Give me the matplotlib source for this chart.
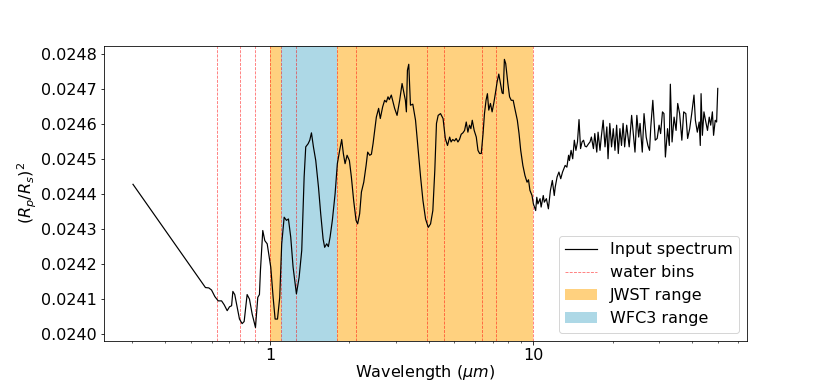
import matplotlib
matplotlib.use("Agg")
import matplotlib.pyplot as plt
from matplotlib.ticker import FuncFormatter, MultipleLocator, FormatStrFormatter

# spectrum (wavelength in micron, transit depth)
wavelength = [
    0.302, 0.569, 0.586, 0.600, 0.618, 0.636, 0.655, 0.670, 0.688, 0.702,
    0.715, 0.723, 0.735, 0.751, 0.766, 0.784, 0.798, 0.819, 0.836, 0.856,
    0.881, 0.899, 0.912, 0.920, 0.939, 0.956, 0.976, 0.996, 1.007, 1.028,
    1.046, 1.068, 1.089, 1.108, 1.132, 1.155, 1.175, 1.199, 1.224, 1.260,
    1.290, 1.320, 1.348, 1.367, 1.396, 1.416, 1.437, 1.462, 1.492, 1.528,
    1.558, 1.591, 1.613, 1.642, 1.666, 1.691, 1.725, 1.767, 1.802, 1.839,
    1.872, 1.899, 1.928, 1.962, 2.002, 2.037, 2.078, 2.122, 2.152, 2.190,
    2.224, 2.270, 2.317, 2.349, 2.391, 2.427, 2.462, 2.497, 2.534, 2.585,
    2.623, 2.677, 2.724, 2.765, 2.806, 2.838, 2.888, 2.932, 2.973, 3.037,
    3.107, 3.173, 3.218, 3.266, 3.295, 3.325, 3.364, 3.414, 3.485, 3.569,
    3.654, 3.730, 3.808, 3.896, 3.989, 4.070, 4.152, 4.224, 4.286, 4.350,
    4.44, 4.54, 4.63, 4.72, 4.81, 4.87, 4.94, 5.02, 5.09, 5.17,
    5.24, 5.32, 5.40, 5.48, 5.56, 5.64, 5.72, 5.79, 5.86, 5.96,
    6.07, 6.16, 6.25, 6.34, 6.44, 6.52, 6.61, 6.69, 6.77, 6.87,
    6.97, 7.07, 7.17, 7.28, 7.39, 7.50, 7.61, 7.68, 7.76, 7.85,
    8.00, 8.12, 8.24, 8.38, 8.50, 8.69, 8.82, 8.95, 9.12, 9.29,
    9.46, 9.58, 9.70, 9.88, 10.0, 10.2, 10.3, 10.4, 10.6, 10.7,
    10.9, 11.0, 11.2, 11.4, 11.6, 11.8, 12.0, 12.1, 12.3, 12.5,
    12.7, 12.9, 13.2, 13.4, 13.6, 13.7, 13.9, 14.1, 14.3, 14.5,
    14.7, 14.9, 15.1, 15.3, 15.5, 15.7, 15.9, 16.2, 16.4, 16.6,
    16.9, 17.1, 17.4, 17.6, 17.9, 18.1, 18.4, 18.7, 19.0, 19.2,
    19.5, 19.8, 20.1, 20.4, 20.7, 21.0, 21.3, 21.6, 21.9, 22.2,
    22.6, 23.1, 23.6, 24.0, 24.3, 24.7, 25.1, 25.4, 25.9, 26.3,
    26.8, 27.2, 27.6, 27.9, 28.4, 29.0, 29.5, 30.0, 30.4, 30.9,
    31.3, 31.7, 32.3, 32.8, 33.1, 33.6, 34.2, 34.8, 35.3, 35.9,
    36.6, 37.2, 37.9, 38.5, 39.2, 39.9, 40.7, 41.2, 41.9, 42.6,
    43.0, 43.3, 43.8, 44.4, 45.0, 45.8, 46.5, 47.1, 47.8, 48.3,
    49.0, 49.6, 50.1,
]
depth = [
    0.024428, 0.024133, 0.024132, 0.024126, 0.024107, 0.024095, 0.024095, 0.024084, 0.024067, 0.024078,
    0.024081, 0.024122, 0.024113, 0.024076, 0.024043, 0.024030, 0.024036, 0.024113, 0.024100, 0.024057,
    0.024019, 0.024105, 0.024113, 0.024181, 0.024296, 0.024267, 0.024258, 0.024215, 0.024191, 0.024105,
    0.024043, 0.024043, 0.024105, 0.024258, 0.024334, 0.024325, 0.024329, 0.024277, 0.024191, 0.024115,
    0.024162, 0.024239, 0.024449, 0.024535, 0.024544, 0.024554, 0.024575, 0.024535, 0.024496, 0.024420,
    0.024344, 0.024272, 0.024248, 0.024258, 0.024250, 0.024277, 0.024325, 0.024401, 0.024487, 0.024525,
    0.024556, 0.024516, 0.024487, 0.024511, 0.024496, 0.024449, 0.024382, 0.024325, 0.024315, 0.024344,
    0.024406, 0.024434, 0.024482, 0.024520, 0.024511, 0.024514, 0.024544, 0.024582, 0.024620, 0.024645,
    0.024616, 0.024649, 0.024668, 0.024663, 0.024678, 0.024670, 0.024683, 0.024663, 0.024645, 0.024625,
    0.024668, 0.024716, 0.024692, 0.024668, 0.024635, 0.024754, 0.024771, 0.024654, 0.024657, 0.024611,
    0.024525, 0.024449, 0.024382, 0.024329, 0.024305, 0.024315, 0.024353, 0.024468, 0.024602, 0.024625,
    0.024630, 0.024616, 0.024559, 0.024539, 0.024563, 0.024549, 0.024556, 0.024552, 0.024559, 0.024549,
    0.024556, 0.024571, 0.024575, 0.024582, 0.024606, 0.024577, 0.024597, 0.024587, 0.024611, 0.024582,
    0.024563, 0.024525, 0.024516, 0.024516, 0.024573, 0.024630, 0.024668, 0.024687, 0.024640, 0.024659,
    0.024635, 0.024659, 0.024687, 0.024720, 0.024743, 0.024716, 0.024689, 0.024687, 0.024785, 0.024773,
    0.024716, 0.024678, 0.024668, 0.024668, 0.024645, 0.024611, 0.024573, 0.024525, 0.024482, 0.024453,
    0.024434, 0.024441, 0.024411, 0.024396, 0.024372, 0.024353, 0.024391, 0.024372, 0.024387, 0.024363,
    0.024396, 0.024377, 0.024387, 0.024358, 0.024410, 0.024439, 0.024396, 0.024420, 0.024449, 0.024463,
    0.024444, 0.024463, 0.024482, 0.024477, 0.024511, 0.024496, 0.024525, 0.024501, 0.024554, 0.024525,
    0.024549, 0.024613, 0.024530, 0.024549, 0.024554, 0.024537, 0.024535, 0.024544, 0.024549, 0.024563,
    0.024530, 0.024573, 0.024520, 0.024577, 0.024525, 0.024563, 0.024611, 0.024535, 0.024592, 0.024501,
    0.024602, 0.024535, 0.024587, 0.024525, 0.024597, 0.024516, 0.024587, 0.024539, 0.024602, 0.024535,
    0.024597, 0.024535, 0.024625, 0.024563, 0.024520, 0.024625, 0.024563, 0.024602, 0.024520, 0.024630,
    0.024563, 0.024539, 0.024525, 0.024592, 0.024668, 0.024554, 0.024559, 0.024597, 0.024573, 0.024635,
    0.024630, 0.024506, 0.024587, 0.024539, 0.024714, 0.024549, 0.024620, 0.024582, 0.024659, 0.024630,
    0.024554, 0.024635, 0.024630, 0.024559, 0.024587, 0.024630, 0.024683, 0.024611, 0.024577, 0.024606,
    0.024539, 0.024687, 0.024568, 0.024635, 0.024611, 0.024582, 0.024620, 0.024597, 0.024635, 0.024568,
    0.024611, 0.024606, 0.024702,
]

# bin edges of the water bins (micron)
water_bins = [0.63, 0.77, 0.88, 1.0, 1.1, 1.25, 1.8, 2.13, 3.96, 4.56, 6.38, 7.23, 10.0]
jwst_range = [1.0, 10.0]
wfc3_range = [1.1, 1.8]

plt.rcParams['font.size'] = 16

plt.figure(figsize=(830 / 72, 383 / 72), dpi=72)
plt.plot(wavelength, depth, color="black", lw=1.2, label="Input spectrum", zorder=3)
plt.axvspan(jwst_range[0], jwst_range[1], color="orange", alpha=0.5, lw=0, label="JWST range")
plt.axvspan(wfc3_range[0], wfc3_range[1], color="lightblue", lw=0, label="WFC3 range")
for i, wb in enumerate(water_bins):
    plt.axvline(wb, color="red", ls="--", lw=0.8, alpha=0.6,
                label="water bins" if i == 0 else None)

ax = plt.gca()
plt.xscale("log")
ax.xaxis.set_major_formatter(FuncFormatter(lambda v, p: f"{v:g}"))
ax.yaxis.set_major_locator(MultipleLocator(0.0001))
ax.yaxis.set_major_formatter(FormatStrFormatter("%.4f"))
plt.xlabel(r"Wavelength ($\mu m$)", labelpad=0)
plt.ylabel(r"$(R_p/R_s)^2$", labelpad=2)

handles, labels = ax.get_legend_handles_labels()
order = [labels.index(l) for l in ["Input spectrum", "water bins", "JWST range", "WFC3 range"]]
plt.legend([handles[i] for i in order], [labels[i] for i in order], loc="lower right")
plt.savefig("out.png", dpi=72)
